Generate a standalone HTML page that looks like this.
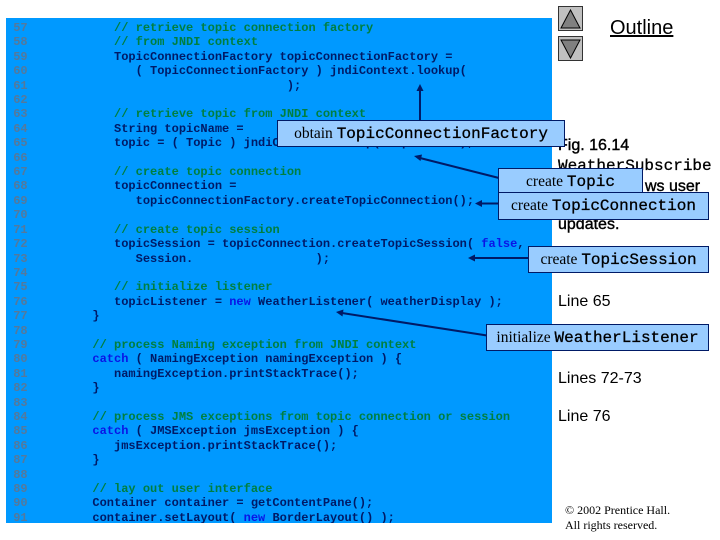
<!DOCTYPE html>
<html>
<head>
<meta charset="utf-8">
<style>
html,body{margin:0;padding:0;background:#fff}
#s{position:relative;width:720px;height:540px;overflow:hidden;background:#fff}
#panel{position:absolute;left:6px;top:18px;width:546px;height:505px;background:#0099ff;overflow:hidden}
pre{position:absolute;margin:0;left:7.2px;top:3px;font:bold 12px/14.41px "Liberation Mono",monospace;color:#001a66}
pre i{font-style:normal;color:#55799b;font-weight:bold}
pre b{color:#007f3f}
pre u{text-decoration:none;color:#0a14e6}
.t{position:absolute;font-family:"Liberation Sans",sans-serif;font-size:16px;line-height:19px;color:#000;white-space:nowrap}
.h{-webkit-text-stroke:.4px #000}
.c{position:absolute;box-sizing:border-box;background:#99ccff;border:1px solid #001a66;color:#000;white-space:nowrap;text-align:center;font:15.5px/25px "Liberation Serif",serif;height:27px}
.c span{font:16px/25px "Liberation Mono",monospace;-webkit-text-stroke:.3px #000}
svg{position:absolute;left:0;top:0}
</style>
</head>
<body>
<div id="s">
<div id="panel">
<pre><i>57</i>            <b>// retrieve topic connection factory</b>
<i>58</i>            <b>// from JNDI context</b>
<i>59</i>            TopicConnectionFactory topicConnectionFactory =
<i>60</i>               ( TopicConnectionFactory ) jndiContext.lookup(
<i>61</i>                                    );
<i>62</i>
<i>63</i>            <b>// retrieve topic from JNDI context</b>
<i>64</i>            String topicName =
<i>65</i>            topic = ( Topic ) jndiContext.lookup( topicName );
<i>66</i>
<i>67</i>            <b>// create topic connection</b>
<i>68</i>            topicConnection =
<i>69</i>               topicConnectionFactory.createTopicConnection();
<i>70</i>
<i>71</i>            <b>// create topic session</b>
<i>72</i>            topicSession = topicConnection.createTopicSession( <u>false</u>,
<i>73</i>               Session.                 );
<i>74</i>
<i>75</i>            <b>// initialize listener</b>
<i>76</i>            topicListener = <u>new</u> WeatherListener( weatherDisplay );
<i>77</i>         }
<i>78</i>
<i>79</i>         <b>// process Naming exception from JNDI context</b>
<i>80</i>         <u>catch</u> ( NamingException namingException ) {
<i>81</i>            namingException.printStackTrace();
<i>82</i>         }
<i>83</i>
<i>84</i>         <b>// process JMS exceptions from topic connection or session</b>
<i>85</i>         <u>catch</u> ( JMSException jmsException ) {
<i>86</i>            jmsException.printStackTrace();
<i>87</i>         }
<i>88</i>
<i>89</i>         <b>// lay out user interface</b>
<i>90</i>         Container container = getContentPane();
<i>91</i>         container.setLayout( <u>new</u> BorderLayout() );</pre>
</div>

<svg width="720" height="540" viewBox="0 0 720 540">
  <rect x="558.5" y="6.500" width="24" height="24" fill="#c0c0c0" stroke="#333"/>
  <polygon points="570.500,10 561,28 580,28" fill="#808080" stroke="#000"/>
  <rect x="558.500" y="36.500" width="24" height="24" fill="#c0c0c0" stroke="#333"/>
  <polygon points="570.500,58 561,40 580,40" fill="#808080" stroke="#000"/>
</svg>

<div class="t" style="left:610px;top:17px;font-size:20px;line-height:23px;text-decoration:underline">Outline</div>
<div class="t h" style="left:558px;top:136px">Fig. 16.14</div>
<div class="t" style="left:558px;top:157px;font-family:'Liberation Mono',monospace;-webkit-text-stroke:.3px #000">WeatherSubscribe</div>
<div class="t h" style="left:645px;top:177px">ws user</div>
<div class="t h" style="left:558px;top:215px">updates.</div>
<div class="t" style="left:558px;top:292px">Line 65</div>
<div class="t" style="left:558px;top:369px">Lines 72-73</div>
<div class="t" style="left:558px;top:407px">Line 76</div>
<div class="t" style="left:565px;top:503px;font:12px/15px 'Liberation Serif',serif">© 2002 Prentice Hall.<br>All rights reserved.</div>

<svg width="720" height="540" viewBox="0 0 720 540">
  <g stroke="#001a66" stroke-width="2" fill="none">
    <line x1="420" y1="122" x2="420" y2="90"/>
    <line x1="499" y1="178" x2="420" y2="158"/>
    <line x1="499" y1="203.500" x2="480" y2="203.500"/>
    <line x1="529" y1="258" x2="474" y2="258"/>
    <line x1="487" y1="335.500" x2="342" y2="313"/>
  </g>
  <g fill="#001a66">
    <polygon points="420,84 416.500,91 423.500,91"/>
    <polygon points="414,156 422,154.500 420.500,161"/>
    <polygon points="475,203.500 482,200 482,207"/>
    <polygon points="468,258 475,254.500 475,261.500"/>
    <polygon points="336,312 343.500,309.500 342.500,316.500"/>
  </g>
</svg>

<div class="c" style="left:277px;top:120px;width:288px">obtain <span>TopicConnectionFactory</span></div>
<div class="c" style="left:498px;top:168px;width:145px">create <span>Topic</span></div>
<div class="c" style="left:498px;top:192px;width:211px;height:28px">create <span>TopicConnection</span></div>
<div class="c" style="left:528px;top:246px;width:181px">create <span>TopicSession</span></div>
<div class="c" style="left:486px;top:324px;width:223px">initialize <span>WeatherListener</span></div>
</div>
</body>
</html>
